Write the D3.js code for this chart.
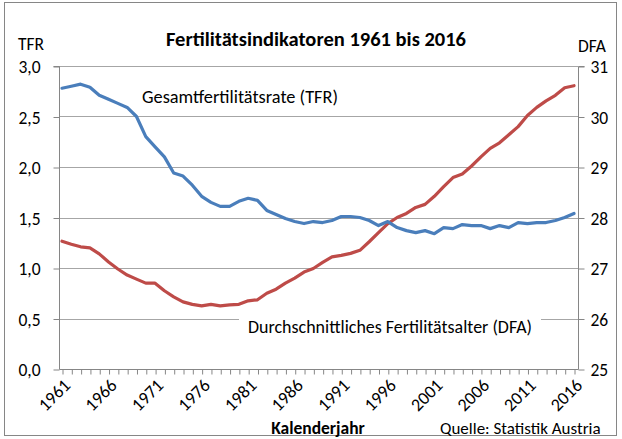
<!DOCTYPE html>
<html><head><meta charset="utf-8">
<script src="https://cdn.jsdelivr.net/npm/d3@7/dist/d3.min.js"></script>
<style>
html,body{margin:0;padding:0;background:#fff;}
text{font-family:Carlito, Lato, "Open Sans", sans-serif;fill:#000;}
</style></head>
<body><svg id="c" width="622" height="439"></svg>
<script>
const years = d3.range(1961, 2017);
const tfr = [2.78,2.80,2.82,2.79,2.71,2.67,2.63,2.59,2.50,2.30,2.20,2.10,1.94,1.91,1.82,1.71,1.65,1.61,1.61,1.66,
  1.69,1.67,1.57,1.53,1.49,1.46,1.44,1.46,1.45,1.47,1.51,1.51,1.50,1.47,1.42,1.46,1.40,1.37,1.35,1.37,
  1.34,1.40,1.39,1.43,1.42,1.42,1.39,1.42,1.40,1.45,1.44,1.45,1.45,1.47,1.50,1.54];
const dfa = [27.53,27.47,27.42,27.40,27.28,27.12,26.98,26.86,26.78,26.70,26.70,26.55,26.43,26.33,26.28,26.25,26.28,26.25,26.27,26.28,
  26.35,26.37,26.50,26.58,26.70,26.80,26.92,26.99,27.11,27.22,27.25,27.29,27.35,27.52,27.70,27.88,28.00,28.08,28.20,28.26,
  28.42,28.61,28.79,28.86,29.02,29.20,29.37,29.48,29.64,29.80,30.02,30.18,30.31,30.42,30.57,30.61];
const leftTicks = [0,0.5,1,1.5,2,2.5,3];
const rightTicks = [25,26,27,28,29,30,31];
const yearLabels = d3.range(1961, 2017, 5);

const svg = d3.select('#c');
const L = 59, R = 578, T = 66, B = 369;
const x = d3.scaleLinear().domain([1961, 2016]).range([62, 574]);
const yL = d3.scaleLinear().domain([0, 3]).range([B, T]);
const yR = d3.scaleLinear().domain([25, 31]).range([B, T]);

// outer border
svg.append('rect').attr('x',4.5).attr('y',2.5).attr('width',612).attr('height',433)
  .attr('fill','none').attr('stroke','#868686').attr('stroke-width',1);

// gridlines
svg.append('g').selectAll('line').data(leftTicks.filter(d=>d>0)).join('line')
  .attr('x1',L).attr('x2',R).attr('y1',d=>Math.round(yL(d))+0.5).attr('y2',d=>Math.round(yL(d))+0.5)
  .attr('stroke','#a6a6a6').attr('stroke-width',1);

// left axis
const axL = d3.axisLeft(yL).tickValues(leftTicks).tickSize(6).tickPadding(13)
  .tickFormat(d=>d3.format('.1f')(d).replace('.',','));
const gL = svg.append('g').attr('transform',`translate(${L+0.5},0.5)`).call(axL);
gL.select('.domain').attr('stroke','#868686').attr('d',`M-6,${T}H0V${B}`);
gL.selectAll('.tick line').attr('stroke','#868686');
gL.selectAll('.tick text').attr('font-size',17.5).attr('dy','0.35em').attr('font-family','Carlito, Lato, sans-serif');

// right axis
const axR = d3.axisRight(yR).tickValues(rightTicks).tickSize(6).tickPadding(6).tickFormat(d3.format('d'));
const gR = svg.append('g').attr('transform',`translate(${R+0.5},0.5)`).call(axR);
gR.select('.domain').attr('stroke','#868686').attr('d',`M6,${T}H0V${B}`);
gR.selectAll('.tick line').attr('stroke','#868686');
gR.selectAll('.tick text').attr('font-size',17.5).attr('dy','0.35em').attr('font-family','Carlito, Lato, sans-serif');

// bottom axis
const axB = d3.axisBottom(x).tickValues(years).tickSize(5).tickFormat('');
const gB = svg.append('g').attr('transform',`translate(0.5,${B+0.5})`).call(axB);
gB.select('.domain').attr('stroke','#868686').attr('d',`M${L},0H${R}`);
gB.selectAll('.tick line').attr('stroke','#868686');
svg.append('g').selectAll('text').data(yearLabels).join('text')
  .attr('transform',d=>`translate(${x(d)+5},${B+13}) rotate(-45)`)
  .attr('text-anchor','end').attr('font-size',18).attr('dy','0.35em').text(d=>d);

// lines
const lineT = d3.line().x((d,i)=>x(years[i])).y(d=>yL(d));
const lineD = d3.line().x((d,i)=>x(years[i])).y(d=>yR(d));
svg.append('path').datum(dfa).attr('d',lineD).attr('fill','none').attr('stroke','#BE4B48')
  .attr('stroke-width',3.2).attr('stroke-linejoin','round').attr('stroke-linecap','round');
svg.append('path').datum(tfr).attr('d',lineT).attr('fill','none').attr('stroke','#4A7EBB')
  .attr('stroke-width',3.2).attr('stroke-linejoin','round').attr('stroke-linecap','round');

// annotations with white background
function label(txt, xx, yy, fs, w){
  const t = svg.append('text').attr('x',xx).attr('y',yy).attr('font-size',fs).attr('dy','0.35em')
    .attr('textLength',w).attr('lengthAdjust','spacingAndGlyphs').text(txt);
  const bb = t.node().getBBox();
  svg.insert('rect', () => t.node()).attr('x',bb.x-9).attr('y',bb.y-2).attr('width',bb.width+18).attr('height',bb.height+4).attr('fill','#fff');
}
label('Gesamtfertilitätsrate (TFR)', 142, 97, 18.5, 196);
label('Durchschnittliches Fertilitätsalter (DFA)', 248, 327, 18.5, 284);

// titles
svg.append('text').attr('x',316).attr('y',39).attr('text-anchor','middle').attr('font-size',20.5)
  .attr('font-weight','bold').attr('dy','0.35em').text('Fertilitätsindikatoren 1961 bis 2016');
svg.append('text').attr('x',18).attr('y',44).attr('font-size',17.5).attr('dy','0.35em').text('TFR');
svg.append('text').attr('x',578).attr('y',46).attr('font-size',17.5).attr('dy','0.35em').text('DFA');
svg.append('text').attr('x',318).attr('y',428).attr('text-anchor','middle').attr('font-size',17.5)
  .attr('font-weight','bold').attr('dy','0.35em').text('Kalenderjahr');
svg.append('text').attr('x',440).attr('y',428).attr('font-size',17).attr('dy','0.35em').text('Quelle: Statistik Austria');
</script></body></html>
